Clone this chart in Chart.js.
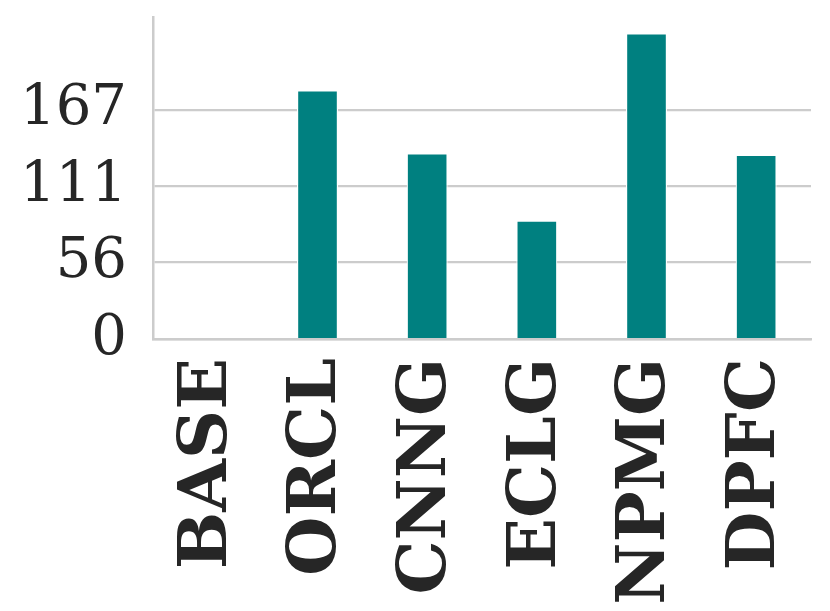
<!DOCTYPE html>
<html><head><meta charset="utf-8">
<script src="https://cdn.jsdelivr.net/npm/chart.js@4/dist/chart.umd.min.js"></script>
<style>html,body{margin:0;padding:0;background:#fff}#wrap{width:830px;height:611px}</style>
</head><body><div id="wrap"><canvas id="c" width="830" height="611"></canvas></div>
<script>
const categories = ["BASE", "ORCL", "CNNG", "ECLG", "NPMG", "DPFC"];
const values = [0, 181.1, 135.2, 86.2, 222.7, 134.2];
const yTicks = [0, 55.67, 111.33, 167];
const yTickLabels = ["0", "56", "111", "167"];
const yMax = 234.5;

new Chart(document.getElementById('c'), {
  type: 'bar',
  data: { labels: categories, datasets: [{ data: values, backgroundColor: '#008080', borderColor: '#ffffff', borderWidth: 1.2, barPercentage: 0.374, categoryPercentage: 1 }] },
  options: {
    responsive: false, animation: false,
    layout: { padding: { top: 17, right: 19, left: 0, bottom: 0 } },
    plugins: { legend: { display: false }, tooltip: { enabled: false } },
    scales: {
      x: {
        grid: { display: false, drawTicks: false },
        border: { display: true, color: '#cccccc', width: 2.5 },
        ticks: { color: '#262626', maxRotation: 90, minRotation: 90, padding: 19, font: { family: 'DejaVu Serif', weight: 'bold', size: 68 } },
        afterFit: s => { s.height = 272; s.paddingLeft = 0; s.paddingRight = 0; }
      },
      y: {
        min: 0, max: yMax,
        grid: { color: '#cccccc', lineWidth: 2.2, drawTicks: false },
        border: { display: true, color: '#cccccc', width: 2.5 },
        afterBuildTicks: s => { s.ticks = yTicks.map(v => ({ value: v })); },
        ticks: { color: '#262626', padding: 26, font: { family: 'DejaVu Serif', size: 56 },
          callback: (v, i) => yTickLabels[i] },
        afterFit: s => { s.width = 153; s.paddingTop = 0; s.paddingBottom = 0; }
      }
    }
  }
});
</script></body></html>
